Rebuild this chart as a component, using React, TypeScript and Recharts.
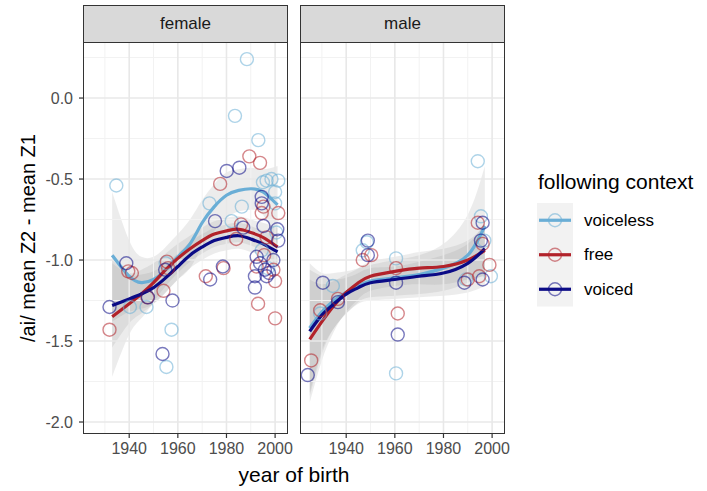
import React from "react";
import {
  ComposedChart,
  Scatter,
  Line,
  Area,
  XAxis,
  YAxis,
  ReferenceLine,
} from "recharts";

const FONT = '"Liberation Sans", Arial, Helvetica, sans-serif';

const series = ["voiceless", "free", "voiced"];
const seriesColors = ["#6aaed6", "#b2222a", "#0b0b86"];
const facets = ["female", "male"];

const xTicks = [1940, 1960, 1980, 2000];
const xMinor = [1930, 1950, 1970, 1990];
const yTicks = [-2.0, -1.5, -1.0, -0.5, 0.0];
const yMinor = [-1.75, -1.25, -0.75, -0.25, 0.25];
const xDomain = [1921, 2005.3];
const yDomain = [-2.074, 0.346];

// ---- female smooth curves ----
const femaleYears = [1933, 1940, 1945, 1950, 1955, 1960, 1965, 1970, 1975, 1980, 1985, 1990, 1995, 2001];
const femaleVoiceless = [-0.97, -1.1, -1.14, -1.12, -1.06, -0.98, -0.9, -0.77, -0.67, -0.6, -0.57, -0.56, -0.58, -0.66];
const femaleFree = [-1.35, -1.27, -1.21, -1.14, -1.06, -0.99, -0.93, -0.88, -0.84, -0.82, -0.81, -0.83, -0.86, -0.92];
const femaleVoiced = [-1.28, -1.24, -1.21, -1.17, -1.11, -1.04, -0.97, -0.92, -0.88, -0.86, -0.85, -0.87, -0.9, -0.95];
const femaleVoicelessHi = [-0.58, -0.88, -0.98, -0.98, -0.92, -0.84, -0.75, -0.63, -0.53, -0.46, -0.44, -0.43, -0.44, -0.42];
const femaleVoicelessLo = [-1.38, -1.32, -1.3, -1.27, -1.2, -1.12, -1.05, -0.92, -0.82, -0.74, -0.7, -0.69, -0.72, -0.9];
const femaleFreeHi = [-1.0, -1.08, -1.06, -1.02, -0.96, -0.9, -0.85, -0.8, -0.76, -0.74, -0.73, -0.75, -0.77, -0.8];
const femaleFreeLo = [-1.72, -1.46, -1.36, -1.26, -1.16, -1.08, -1.01, -0.96, -0.92, -0.9, -0.89, -0.91, -0.95, -1.04];
const femaleVoicedHi = [-1.02, -1.09, -1.09, -1.07, -1.02, -0.96, -0.89, -0.84, -0.8, -0.78, -0.77, -0.79, -0.82, -0.85];
const femaleVoicedLo = [-1.54, -1.39, -1.33, -1.27, -1.2, -1.12, -1.05, -1.0, -0.96, -0.94, -0.93, -0.95, -0.98, -1.05];

// ---- male smooth curves ----
const maleYears = [1925, 1930, 1935, 1940, 1945, 1950, 1960, 1970, 1980, 1990, 1997];
const maleVoiceless = [-1.42, -1.32, -1.25, -1.2, -1.16, -1.13, -1.11, -1.09, -1.05, -0.97, -0.79];
const maleFree = [-1.49, -1.38, -1.28, -1.2, -1.14, -1.1, -1.07, -1.05, -1.04, -1.0, -0.94];
const maleVoiced = [-1.44, -1.34, -1.27, -1.21, -1.17, -1.14, -1.12, -1.1, -1.08, -1.02, -0.93];
const maleVoicelessHi = [-1.02, -1.08, -1.08, -1.07, -1.05, -1.03, -1.0, -0.97, -0.9, -0.72, -0.42];
const maleVoicelessLo = [-1.82, -1.56, -1.42, -1.33, -1.27, -1.25, -1.24, -1.23, -1.22, -1.2, -1.16];
const maleFreeHi = [-1.12, -1.15, -1.13, -1.09, -1.05, -1.01, -0.98, -0.95, -0.93, -0.88, -0.78];
const maleFreeLo = [-1.88, -1.62, -1.44, -1.32, -1.24, -1.19, -1.16, -1.15, -1.15, -1.12, -1.1];
const maleVoicedHi = [-1.06, -1.1, -1.12, -1.11, -1.08, -1.05, -1.04, -1.01, -0.97, -0.9, -0.77];
const maleVoicedLo = [-1.84, -1.58, -1.42, -1.33, -1.26, -1.23, -1.22, -1.21, -1.19, -1.14, -1.09];

// ---- observed points: [year, value] ----
const femaleVoicelessPts = [
  [1934.7, -0.54], [1940.3, -1.29], [1947.1, -1.29], [1955.0, -1.02], [1957.4, -1.43], [1955.3, -1.66],
  [1973.0, -0.65], [1982.1, -0.76], [1983.5, -0.11], [1986.3, -0.67], [1988.4, 0.24], [1993.1, -0.26],
  [1995.0, -0.52], [1996.5, -0.51], [1998.5, -0.5], [2001.3, -0.51], [2000.0, -0.58], [2000.0, -0.65],
  [1994.5, -0.94], [2000.5, -0.83], [1997.0, -1.05],
];
const femaleFreePts = [
  [1931.9, -1.43], [1939.6, -1.07], [1941.1, -1.08], [1947.5, -1.23], [1954.1, -1.19], [1955.5, -1.01],
  [1956.0, -1.05], [1971.5, -1.1], [1977.4, -0.53], [1978.8, -1.05], [1984.0, -0.87], [1989.4, -0.36],
  [1993.8, -0.4], [1994.5, -0.71], [1995.2, -0.67], [2001.3, -0.71], [1996.5, -0.86], [1995.5, -0.97],
  [1992.4, -1.04], [1999.3, -1.06], [1993.0, -1.27], [2000.0, -1.13], [2000.0, -1.36], [1986.0, -0.78],
];
const femaleVoicedPts = [
  [1931.9, -1.29], [1938.8, -1.02], [1947.7, -1.23], [1954.8, -1.06], [1957.8, -1.25], [1953.7, -1.58],
  [1973.3, -1.12], [1975.3, -0.76], [1978.5, -1.04], [1980.1, -0.45], [1985.3, -0.43], [1986.9, -0.8],
  [1994.5, -0.61], [1994.5, -0.65], [1995.2, -0.79], [2000.9, -0.81], [2001.3, -0.88], [1992.4, -0.98],
  [1999.3, -1.0], [1993.8, -1.02], [1995.8, -1.06], [1991.7, -1.1], [1996.5, -1.1], [1991.7, -1.17],
  [1997.5, -1.08],
];
const maleVoicelessPts = [
  [1929.3, -1.33], [1934.5, -1.16], [1946.8, -0.94], [1948.5, -0.89], [1960.5, -0.99], [1960.5, -1.7],
  [1989.3, -1.12], [1994.1, -0.39], [1995.4, -0.73], [1999.5, -1.1], [1996.8, -0.88],
];
const maleFreePts = [
  [1925.6, -1.62], [1929.3, -1.31], [1936.6, -1.24], [1946.8, -1.0], [1950.3, -0.97], [1960.5, -1.05],
  [1961.2, -1.33], [1994.1, -0.77], [1996.1, -0.9], [1998.9, -1.03], [1994.7, -1.1], [1990.0, -1.12],
];
const maleVoicedPts = [
  [1924.2, -1.71], [1930.4, -1.14], [1936.6, -1.26], [1948.9, -0.88], [1948.9, -0.97], [1960.5, -1.14],
  [1961.2, -1.46], [1988.6, -1.14], [1996.1, -0.77], [1995.4, -0.88], [1996.1, -1.12],
];

function buildTable(years: number[], curves: number[][], his: number[][], los: number[][]) {
  return years.map((year, i) => {
    const row: any = { year };
    series.forEach((s, k) => {
      row[s] = curves[k][i];
      row[s + "Band"] = [los[k][i], his[k][i]];
    });
    return row;
  });
}

const toPts = (arr: number[][]) => arr.map(([year, v]) => ({ year, v }));

const facetData = [
  {
    table: buildTable(
      femaleYears,
      [femaleVoiceless, femaleFree, femaleVoiced],
      [femaleVoicelessHi, femaleFreeHi, femaleVoicedHi],
      [femaleVoicelessLo, femaleFreeLo, femaleVoicedLo]
    ),
    points: [femaleVoicelessPts, femaleFreePts, femaleVoicedPts].map(toPts),
  },
  {
    table: buildTable(
      maleYears,
      [maleVoiceless, maleFree, maleVoiced],
      [maleVoicelessHi, maleFreeHi, maleVoicedHi],
      [maleVoicelessLo, maleFreeLo, maleVoicedLo]
    ),
    points: [maleVoicelessPts, maleFreePts, maleVoicedPts].map(toPts),
  },
];

const PANEL_TOP = 42;
const PANEL_BOTTOM = 434;
const CHART_H = 491;
const RIGHT_PAD = 14;
const panels = [
  { left: 0, plotW: 205, yAxisW: 83, showY: true },
  { left: 300, plotW: 205, yAxisW: 0, showY: false },
];

function ringShape(color: string) {
  return (p: any) => (
    <circle cx={p.cx} cy={p.cy} r={6.5} fill="none" stroke={color} strokeOpacity={0.55} strokeWidth={1.4} />
  );
}

function Facet({ idx }: { idx: number }) {
  const panel = panels[idx];
  const fd = facetData[idx];
  const xAxisH = 30;
  return (
    <div style={{ position: "absolute", left: panel.left, top: 0 }}>
      <ComposedChart
        width={panel.yAxisW + panel.plotW + RIGHT_PAD}
        height={CHART_H}
        data={fd.table}
        margin={{ top: PANEL_TOP, right: RIGHT_PAD, left: 0, bottom: CHART_H - PANEL_BOTTOM - xAxisH }}
      >
        <XAxis
          type="number"
          dataKey="year"
          domain={xDomain}
          allowDataOverflow
          ticks={xTicks}
          height={xAxisH}
          axisLine={false}
          tickSize={4}
          tickMargin={5}
          interval={0}
          tickLine={{ stroke: "#333333", strokeWidth: 1.2 }}
          tick={{ fill: "#4d4d4d", fontSize: 16, fontFamily: FONT }}
        />
        <YAxis
          type="number"
          dataKey="v"
          domain={yDomain}
          allowDataOverflow
          ticks={yTicks}
          hide={!panel.showY}
          width={panel.yAxisW}
          axisLine={false}
          tickSize={4}
          tickMargin={6}
          interval={0}
          tickLine={{ stroke: "#333333", strokeWidth: 1.2 }}
          tick={{ fill: "#4d4d4d", fontSize: 16, fontFamily: FONT }}
          tickFormatter={(v: number) => v.toFixed(1)}
        />
        {xMinor.map((x) => (
          <ReferenceLine key={"xm" + x} x={x} stroke="#f2f2f2" strokeWidth={1} />
        ))}
        {yMinor.map((y) => (
          <ReferenceLine key={"ym" + y} y={y} stroke="#f2f2f2" strokeWidth={1} />
        ))}
        {xTicks.map((x) => (
          <ReferenceLine key={"xM" + x} x={x} stroke="#e8e8e8" strokeWidth={1.6} />
        ))}
        {yTicks.map((y) => (
          <ReferenceLine key={"yM" + y} y={y} stroke="#e8e8e8" strokeWidth={1.6} />
        ))}
        {series.map((s, k) => (
          <Scatter
            key={"pts" + s}
            name={s}
            data={fd.points[k]}
            shape={ringShape(seriesColors[k])}
            isAnimationActive={false}
          />
        ))}
        {series.map((s) => (
          <Area
            key={"band" + s}
            dataKey={s + "Band"}
            type="natural"
            stroke="none"
            fill="#8f8f8f"
            fillOpacity={0.17}
            isAnimationActive={false}
            activeDot={false}
          />
        ))}
        {series.map((s, k) => (
          <Line
            key={"line" + s}
            dataKey={s}
            type="natural"
            stroke={seriesColors[k]}
            strokeWidth={3.2}
            dot={false}
            activeDot={false}
            isAnimationActive={false}
          />
        ))}
      </ComposedChart>
      {/* panel border */}
      <div
        style={{
          position: "absolute",
          left: panel.yAxisW,
          top: PANEL_TOP,
          width: panel.plotW,
          height: PANEL_BOTTOM - PANEL_TOP,
          border: "1.3px solid #333333",
          boxSizing: "border-box",
          pointerEvents: "none",
        }}
      />
      {/* strip */}
      <div
        style={{
          position: "absolute",
          left: panel.yAxisW,
          top: 5,
          width: panel.plotW,
          height: PANEL_TOP - 5 + 1,
          background: "#d9d9d9",
          border: "1.3px solid #333333",
          boxSizing: "border-box",
          display: "flex",
          alignItems: "center",
          justifyContent: "center",
          fontFamily: FONT,
          fontSize: 17,
          color: "#1a1a1a",
        }}
      >
        {facets[idx]}
      </div>
    </div>
  );
}

function LegendBox() {
  const keyX = 537;
  const keyW = 36;
  const keyTop = 203;
  const keyH = 34.5;
  return (
    <svg
      width={707}
      height={491}
      style={{ position: "absolute", left: 0, top: 0, pointerEvents: "none" }}
    >
      <text x={28} y={238} transform="rotate(-90 28 238)" textAnchor="middle" dominantBaseline="central" fontFamily={FONT} fontSize={20} fill="#000">
        /ai/ mean Z2 - mean Z1
      </text>
      <text x={294} y={482} textAnchor="middle" fontFamily={FONT} fontSize={21} fill="#000">
        year of birth
      </text>
      <text x={538} y={189} fontFamily={FONT} fontSize={21} fill="#000">
        following context
      </text>
      <rect x={keyX} y={keyTop} width={keyW} height={keyH * 3} fill="#f2f2f2" />
      {series.map((s, k) => {
        const cy = keyTop + keyH * k + keyH / 2;
        return (
          <g key={s}>
            <line x1={keyX + 2} x2={keyX + keyW - 2} y1={cy} y2={cy} stroke={seriesColors[k]} strokeWidth={3.2} />
            <circle cx={keyX + keyW / 2} cy={cy} r={6.5} fill="none" stroke={seriesColors[k]} strokeOpacity={0.55} strokeWidth={1.4} />
            <text x={584} y={cy} dominantBaseline="central" fontFamily={FONT} fontSize={17} fill="#000">
              {s}
            </text>
          </g>
        );
      })}
    </svg>
  );
}

export default function App() {
  return (
    <div
      style={{
        position: "absolute",
        left: 0,
        top: 0,
        width: 707,
        height: 491,
        background: "#ffffff",
        overflow: "hidden",
      }}
    >
      <Facet idx={0} />
      <Facet idx={1} />
      <LegendBox />
    </div>
  );
}
